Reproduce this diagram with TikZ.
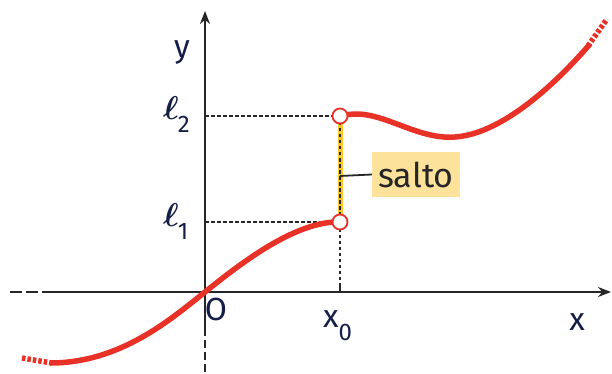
\RequirePackage{fix-cm}
\documentclass[tikz,border=0pt]{standalone}
\usepackage{fontspec}
\setmainfont{Fira Sans}
\usetikzlibrary{arrows.meta}
\definecolor{curvered}{RGB}{232,50,40}
\definecolor{saltoyel}{RGB}{250,200,40}
\definecolor{saltobg}{RGB}{253,226,155}
\definecolor{labblue}{RGB}{20,30,70}
\tikzset{
  axisline/.style={line width=2pt, black!85},
  guide/.style={line width=1.3pt, black!85, dash pattern=on 3.5pt off 2.5pt},
  redcurve/.style={line width=5.5pt, curvered},
  reddots/.style={line width=5.5pt, curvered, dash pattern=on 3.5pt off 2pt},
  holept/.style={circle, draw=curvered, fill=white, line width=1.8pt, minimum size=15pt, inner sep=0pt},
  lab/.style={text=labblue, font=\fontsize{32}{36}\selectfont, inner sep=0pt}
}
\newcommand{\subdig}[1]{\raisebox{-13pt}{\fontsize{24}{26}\selectfont #1}}
\newcommand{\bigell}{{\fontsize{33}{38}\selectfont\boldmath$\ell$}}
\begin{document}
\begin{tikzpicture}[x=1pt,y=-1pt]
\useasboundingbox (0,0) rectangle (612,374);
% coordinates
\coordinate (O) at (205,292);
\coordinate (xs) at (10,292);
\coordinate (xd) at (42,292);
\coordinate (xe) at (611,292);
\coordinate (yb) at (205,372);
\coordinate (yd) at (205,335);
\coordinate (ye) at (205,11);
\coordinate (x0) at (340,292);
\coordinate (L1) at (205,222);
\coordinate (L2) at (205,116);
% axes
\draw[axisline, dash pattern=on 12pt off 4pt] (xs) -- (xd);
\draw[axisline, -{Stealth[length=13pt,width=10pt]}] (xd) -- (xe);
\draw[axisline, dash pattern=on 8pt off 4pt] (yb) -- (yd);
\draw[axisline, -{Stealth[length=13pt,width=10pt]}] (yd) -- (ye);
% guides
\draw[guide] (L2) -- (340,116);
\draw[guide] (L1) -- (340,222);
\draw[guide] (x0) -- (340,222);
\draw[axisline] (340,284) -- (x0);
% jump
\draw[line width=5pt, saltoyel] (340,116) -- (340,222);
\draw[guide] (340,116) -- (340,222);
% curve
\draw[reddots] (22,358) -- (52,363);
\draw[redcurve] (50,363) .. controls (120,363) and (170,320) .. (O)
  .. controls (240,264) and (290,225) .. (334,222);
\draw[redcurve] (346,115) .. controls (380,108) and (415,140) .. (455,137)
  .. controls (500,134) and (552,88) .. (590,44);
\draw[reddots] (588,46) -- (607,19);
% holes
\node[holept] (h2) at (340,116) {};
\node[holept] (h1) at (340,222) {};
% labels
\node[lab, anchor=base] (ylab) at (182,58) {y};
\node[lab, anchor=base] (xlab) at (577,330) {x};
\node[lab, anchor=base] (olab) at (216,320) {O};
\node[lab, anchor=base west] (x0lab) at (323,327) {x\subdig{0}};
\node[lab, anchor=base west] (l2lab) at (163,120) {\bigell\kern-1pt\subdig{2}};
\node[lab, anchor=base west] (l1lab) at (163,226) {\bigell\kern-1pt\subdig{1}};
\node[lab, fill=saltobg, text=black!85, font=\fontsize{34}{38}\selectfont, minimum width=88pt, minimum height=45pt] (salto) at (416,174.5) {salto};
\coordinate (sj) at (340,176);
\draw[line width=1.8pt, black!85] (sj) -- (salto.west);
\end{tikzpicture}
\end{document}
